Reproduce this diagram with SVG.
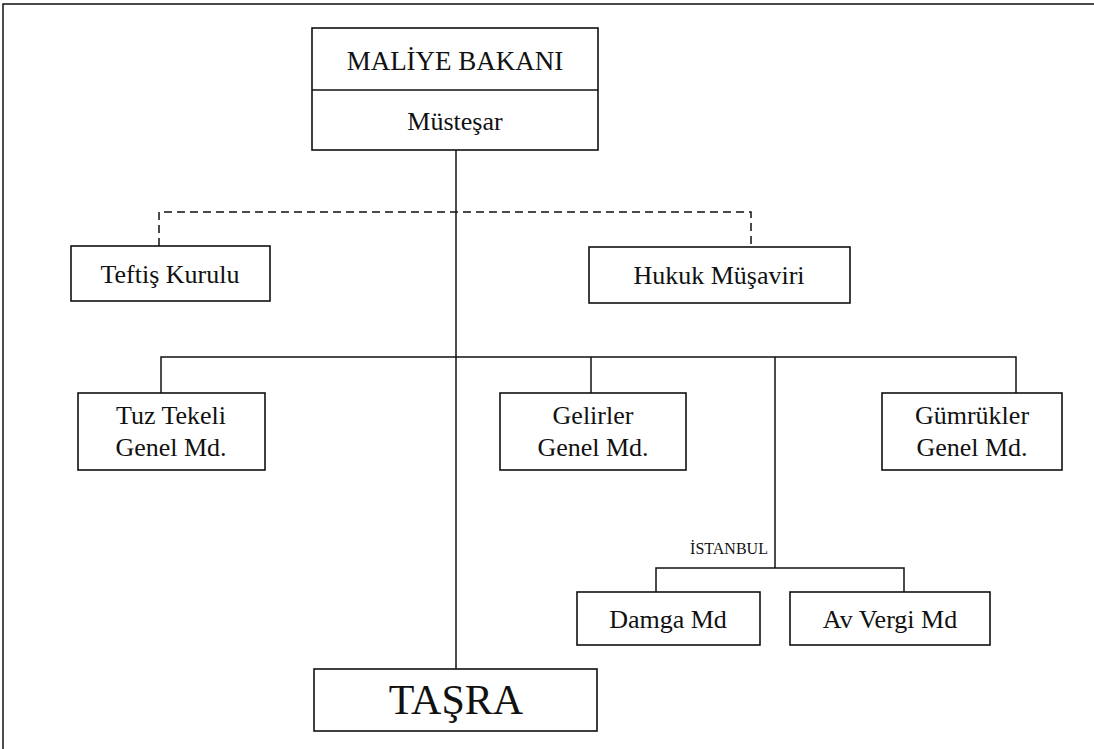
<svg xmlns="http://www.w3.org/2000/svg" width="1094" height="749" viewBox="0 0 1094 749">
<style>
.box{fill:#fff;stroke:#111;stroke-width:1.6}
.ln{fill:none;stroke:#111;stroke-width:1.5}
.dash{fill:none;stroke:#111;stroke-width:1.5;stroke-dasharray:8,5}
text{font-family:"Liberation Serif","Times New Roman",serif;fill:#111;text-anchor:middle}
.t{font-size:26px}
</style>
<rect width="1094" height="749" fill="#fff"/>
<g id="frame" class="ln"><path d="M3,749 V4 H1094"/></g>
<g id="connectors">
<path class="ln" d="M456,150 V669"/>
<path class="dash" d="M159,246 V212 H751 V247"/>
<path class="ln" d="M161,393 V357 H1016 V393"/>
<path class="ln" d="M591,357 V393"/>
<path class="ln" d="M775,357 V568"/>
<path class="ln" d="M656,592 V568 H904 V592"/>
</g>
<g id="bakan"><rect class="box" x="312" y="28" width="286" height="122"/><line class="ln" x1="312" y1="90" x2="598" y2="90"/><text x="455" y="70" style="font-size:27px">MALİYE BAKANI</text><text class="t" x="455" y="130">Müsteşar</text></g>
<g id="teftis"><rect class="box" x="71" y="246" width="199" height="55"/><text class="t" x="170" y="283">Teftiş Kurulu</text></g>
<g id="hukuk"><rect class="box" x="589" y="247" width="261" height="56"/><text class="t" x="719" y="284">Hukuk Müşaviri</text></g>
<g id="tuz"><rect class="box" x="78" y="393" width="187" height="77"/><text class="t" x="171" y="424">Tuz Tekeli</text><text class="t" x="171" y="456">Genel Md.</text></g>
<g id="gelirler"><rect class="box" x="500" y="393" width="186" height="77"/><text class="t" x="593" y="424">Gelirler</text><text class="t" x="593" y="456">Genel Md.</text></g>
<g id="gumruk"><rect class="box" x="882" y="393" width="180" height="77"/><text class="t" x="972" y="424">Gümrükler</text><text class="t" x="972" y="456">Genel Md.</text></g>
<g id="istanbul"><text x="729" y="554" style="font-size:16px">İSTANBUL</text></g>
<g id="damga"><rect class="box" x="577" y="592" width="183" height="53"/><text class="t" x="668" y="628">Damga Md</text></g>
<g id="avvergi"><rect class="box" x="790" y="592" width="200" height="53"/><text class="t" x="890" y="628">Av Vergi Md</text></g>
<g id="tasra"><rect class="box" x="314" y="669" width="283" height="62"/><text x="456" y="714" style="font-size:42px">TAŞRA</text></g>
</svg>
